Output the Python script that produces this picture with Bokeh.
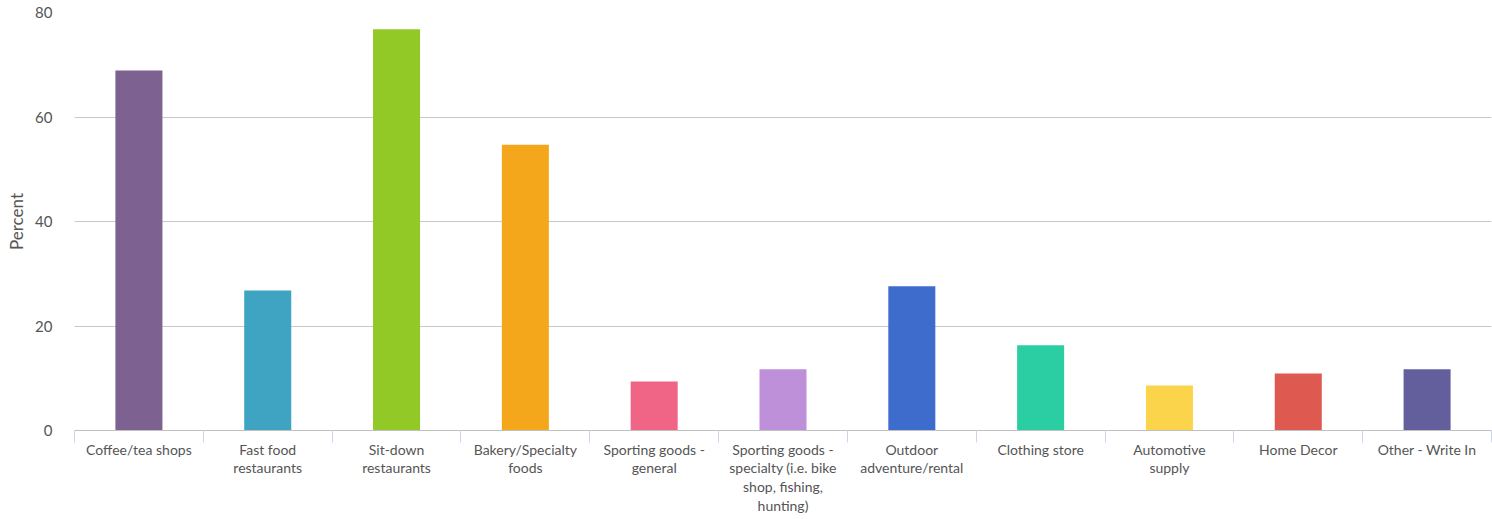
from bokeh.plotting import figure
from bokeh.models import FixedTicker, ColumnDataSource
from bokeh.embed import file_html
from bokeh.resources import INLINE

categories = [
    "Coffee/tea shops",
    "Fast food\nrestaurants",
    "Sit-down\nrestaurants",
    "Bakery/Specialty\nfoods",
    "Sporting goods -\ngeneral",
    "Sporting goods -\nspecialty (i.e. bike\nshop, fishing,\nhunting)",
    "Outdoor\nadventure/rental",
    "Clothing store",
    "Automotive\nsupply",
    "Home Decor",
    "Other - Write In",
]
values = [68.9, 26.8, 76.8, 54.7, 9.4, 11.7, 27.6, 16.3, 8.6, 10.9, 11.7]
colors = ["#7d6190", "#3fa3c2", "#93c926", "#f5a71b", "#f06586", "#be90d9",
          "#3d6ccc", "#2bcea2", "#fcd44b", "#de5a50", "#625f9c"]
y_ticks = [0, 20, 40, 60, 80]

n = len(categories)
xs = list(range(n))
src = ColumnDataSource(dict(x=xs, top=values, color=colors))

p = figure(width=1492, height=519, output_backend="svg", toolbar_location=None,
           x_range=(-0.5, n - 0.5), y_range=(0, 80),
           min_border_left=74, min_border_right=1, min_border_top=12, min_border_bottom=89)
p.outline_line_color = None
p.background_fill_color = "white"
p.border_fill_color = "white"

p.vbar(x="x", top="top", bottom=0, width=0.365, color="color", source=src, line_color=None)

# x axis
p.xaxis.ticker = FixedTicker(ticks=xs, minor_ticks=[i - 0.5 for i in range(n + 1)])
p.xaxis.major_label_overrides = {i: c for i, c in enumerate(categories)}
p.xaxis.axis_line_color = "#c0c0c0"
p.xaxis.axis_line_width = 1
p.xaxis.major_tick_line_color = None
p.xaxis.major_tick_out = 0
p.xaxis.major_tick_in = 0
p.xaxis.minor_tick_line_color = "#ccd6eb"
p.xaxis.minor_tick_out = 12
p.xaxis.minor_tick_in = 0
p.xaxis.major_label_standoff = -2
p.xaxis.major_label_text_font = "Lato"
p.xaxis.major_label_text_font_size = "14px"
p.xaxis.major_label_text_color = "#555555"
p.xaxis.major_label_text_line_height = 1.11
p.xgrid.grid_line_color = None

# y axis
p.yaxis.ticker = FixedTicker(ticks=y_ticks)
p.yaxis.axis_line_color = None
p.yaxis.major_tick_line_color = None
p.yaxis.minor_tick_line_color = None
p.yaxis.major_label_standoff = 16
p.yaxis.major_label_text_font = "Lato"
p.yaxis.major_label_text_font_size = "15px"
p.yaxis.major_label_text_color = "#555555"
p.yaxis.axis_label = "Percent"
p.yaxis.axis_label_text_font = "Lato"
p.yaxis.axis_label_text_font_size = "17px"
p.yaxis.axis_label_text_font_style = "normal"
p.yaxis.axis_label_text_color = "#555555"
p.yaxis.axis_label_standoff = 5
p.ygrid.grid_line_color = "#c8c8c8"
p.ygrid.grid_line_width = 1

open("out.html", "w").write(file_html(p, INLINE))
